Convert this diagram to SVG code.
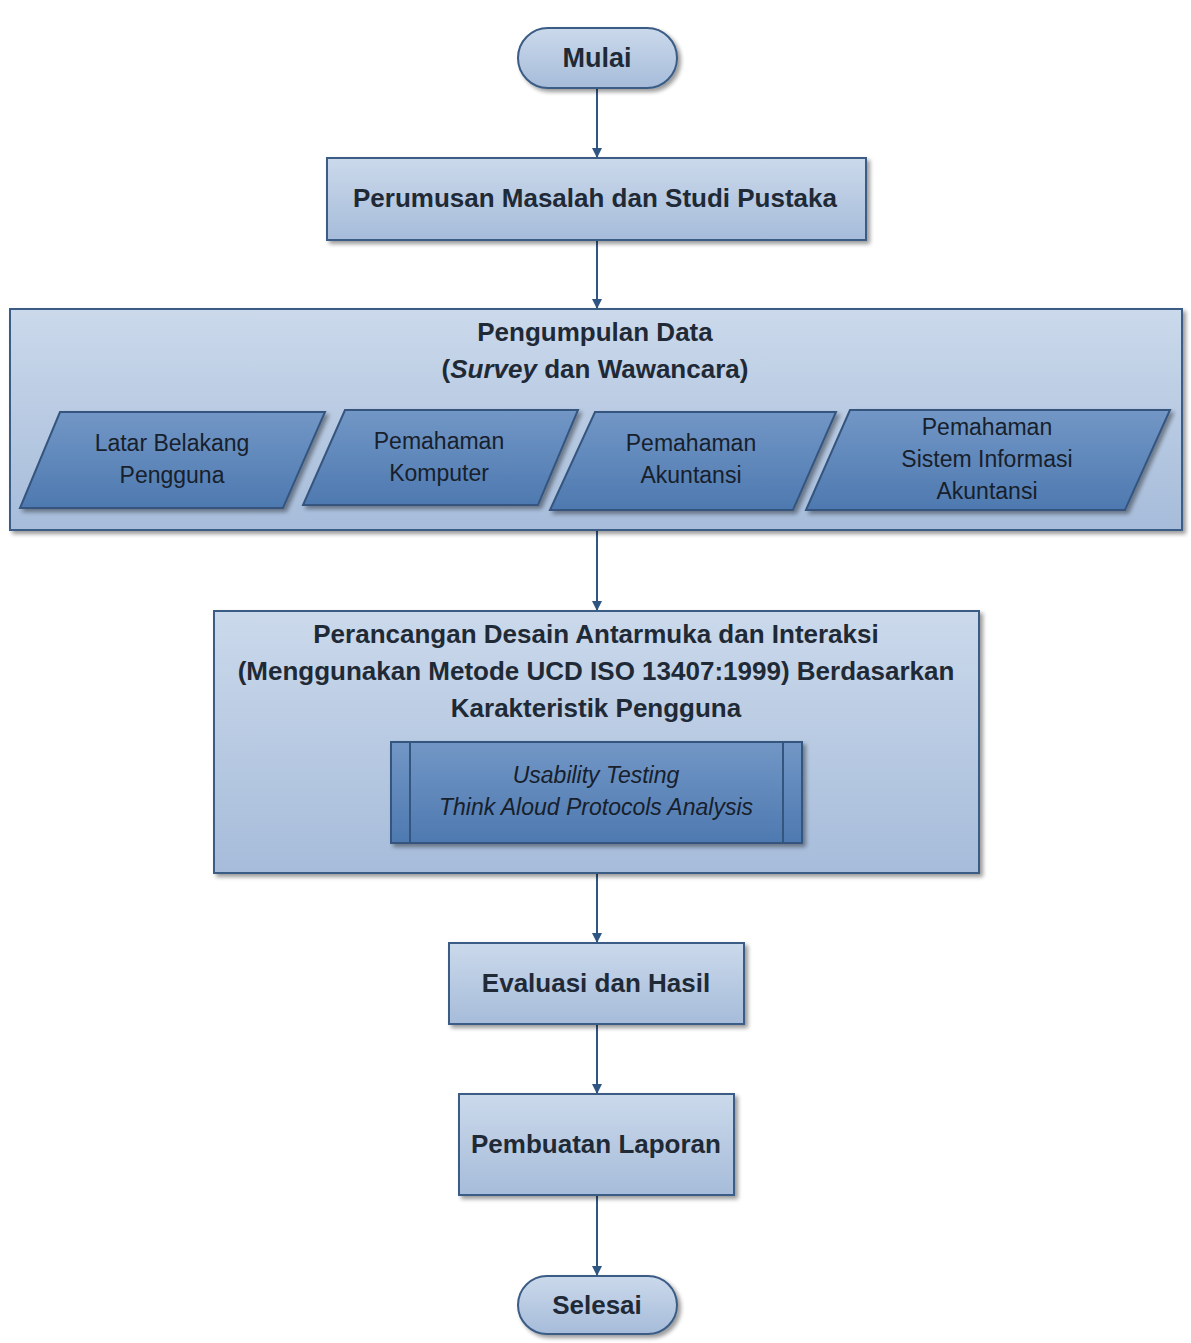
<svg xmlns="http://www.w3.org/2000/svg" width="1191" height="1343" viewBox="0 0 1191 1343">
<defs>
<linearGradient id="gLight" x1="0" y1="0" x2="0" y2="1">
<stop offset="0" stop-color="#cbd9eb"/>
<stop offset="1" stop-color="#a6bcda"/>
</linearGradient>
<linearGradient id="gDark" x1="0" y1="0" x2="0" y2="1">
<stop offset="0" stop-color="#7297c6"/>
<stop offset="1" stop-color="#4e79b0"/>
</linearGradient>
<filter id="sh" x="-10%" y="-10%" width="120%" height="130%">
<feGaussianBlur in="SourceAlpha" stdDeviation="2"/>
<feOffset dx="3" dy="3" result="b"/>
<feComponentTransfer><feFuncA type="linear" slope="0.4"/></feComponentTransfer>
<feMerge><feMergeNode/><feMergeNode in="SourceGraphic"/></feMerge>
</filter>
<marker id="arr" viewBox="0 0 10 10" refX="9" refY="5" markerWidth="10" markerHeight="10" markerUnits="userSpaceOnUse" orient="auto">
<path d="M0,0 L10,5 L0,10 z" fill="#2f5582"/>
</marker>
</defs>
<style>
.box{fill:url(#gLight);stroke:#3a5b84;stroke-width:2;filter:url(#sh)}
.para{fill:url(#gDark);stroke:#34557e;stroke-width:2;filter:url(#sh)}
.b{font-family:"Liberation Sans",Arial,sans-serif;font-weight:bold;font-size:26px;fill:#1f2a36;text-anchor:middle}
.r{font-family:"Liberation Sans",Arial,sans-serif;font-size:23px;fill:#17202b;text-anchor:middle}
.i{font-style:italic}
.conn{stroke:#2f5582;stroke-width:2;fill:none;marker-end:url(#arr)}
</style>
<rect width="1191" height="1343" fill="#ffffff"/>

<g id="connectors">
<line class="conn" x1="597" y1="88" x2="597" y2="157"/>
<line class="conn" x1="597" y1="240" x2="597" y2="308"/>
<line class="conn" x1="597" y1="530" x2="597" y2="610"/>
<line class="conn" x1="597" y1="873" x2="597" y2="942"/>
<line class="conn" x1="597" y1="1024" x2="597" y2="1093"/>
<line class="conn" x1="597" y1="1195" x2="597" y2="1275"/>
</g>

<g id="mulai">
<rect class="box" x="518" y="28" width="159" height="60" rx="30" ry="30"/>
<text class="b" x="597" y="67" style="font-size:27px">Mulai</text>
</g>

<g id="perumusan">
<rect class="box" x="327" y="158" width="539" height="82"/>
<text class="b" x="595" y="207">Perumusan Masalah dan Studi Pustaka</text>
</g>

<g id="pengumpulan">
<rect class="box" x="10" y="309" width="1172" height="221"/>
<text class="b" x="595" y="341">Pengumpulan Data</text>
<text class="b" x="595" y="378">(<tspan style="font-style:italic">Survey</tspan> dan Wawancara)</text>
</g>

<g id="latar">
<polygon class="para" points="60,412 325,412 283,508 20,508"/>
<text class="r" x="172" y="451">Latar Belakang</text>
<text class="r" x="172" y="483">Pengguna</text>
</g>

<g id="komputer">
<polygon class="para" points="345,410 578,410 538,505 303,505"/>
<text class="r" x="439" y="449">Pemahaman</text>
<text class="r" x="439" y="481">Komputer</text>
</g>

<g id="akuntansi">
<polygon class="para" points="595,412 836,412 793,510 550,510"/>
<text class="r" x="691" y="451">Pemahaman</text>
<text class="r" x="691" y="483">Akuntansi</text>
</g>

<g id="sia">
<polygon class="para" points="850,410 1170,410 1125,510 806,510"/>
<text class="r" x="987" y="435">Pemahaman</text>
<text class="r" x="987" y="467">Sistem Informasi</text>
<text class="r" x="987" y="499">Akuntansi</text>
</g>

<g id="perancangan">
<rect class="box" x="214" y="611" width="765" height="262"/>
<text class="b" x="596" y="643">Perancangan Desain Antarmuka dan Interaksi</text>
<text class="b" x="596" y="680">(Menggunakan Metode UCD ISO 13407:1999) Berdasarkan</text>
<text class="b" x="596" y="717">Karakteristik Pengguna</text>
</g>

<g id="usability">
<rect class="para" x="391" y="742" width="411" height="101"/>
<line x1="410" y1="742" x2="410" y2="843" stroke="#34557e" stroke-width="2"/>
<line x1="783" y1="742" x2="783" y2="843" stroke="#34557e" stroke-width="2"/>
<text class="r i" x="596" y="783">Usability Testing</text>
<text class="r i" x="596" y="815">Think Aloud Protocols Analysis</text>
</g>

<g id="evaluasi">
<rect class="box" x="449" y="943" width="295" height="81"/>
<text class="b" x="596" y="992">Evaluasi dan Hasil</text>
</g>

<g id="laporan">
<rect class="box" x="459" y="1094" width="275" height="101"/>
<text class="b" x="596" y="1153">Pembuatan Laporan</text>
</g>

<g id="selesai">
<rect class="box" x="518" y="1276" width="159" height="58" rx="29" ry="29"/>
<text class="b" x="597" y="1314">Selesai</text>
</g>
</svg>
